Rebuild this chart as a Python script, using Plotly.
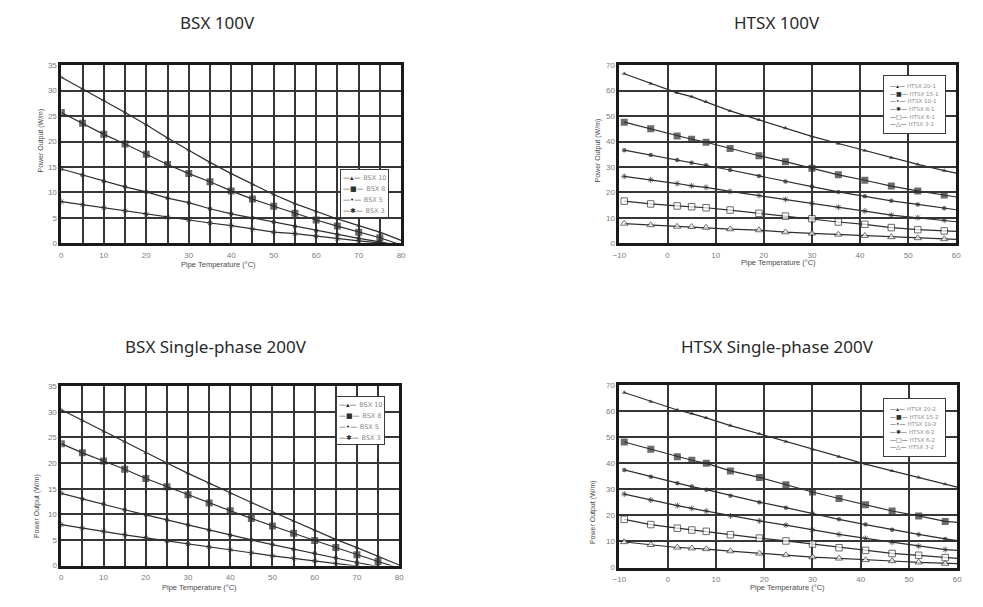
import plotly.graph_objects as go

W, H = 983, 607

# ---------------- data ----------------
chart_titles = ["BSX 100V", "HTSX 100V", "BSX Single-phase 200V", "HTSX Single-phase 200V"]
x_title = "Pipe Temperature (°C)"
y_title = "Power Output (W/m)"

# BSX: pipe temperature (last value = end of line, no marker)
bsx_temp = [0, 5, 10, 15, 20, 25, 30, 35, 40, 45, 50, 55, 60, 65, 70, 75, 80]
bsx_names = ["BSX 10", "BSX 8", "BSX 5", "BSX 3"]

bsx100_10 = [32.6, 30.3, 28.1, 25.7, 23.3, 20.7, 18.3, 15.9, 13.7, 11.6, 9.6, 7.8, 6.3, 4.8, 3.5, 2.2, 0.6]
bsx100_8 = [25.7, 23.6, 21.4, 19.5, 17.5, 15.5, 13.7, 12.1, 10.3, 8.7, 7.3, 5.9, 4.6, 3.4, 2.2, 1.1, -0.3]
bsx100_5 = [14.6, 13.4, 12.2, 11.1, 10.1, 8.9, 8.0, 6.8, 5.8, 5.0, 4.2, 3.3, 2.5, 1.7, 1.0, 0.3, -0.5]
bsx100_3 = [8.2, 7.6, 7.0, 6.4, 5.7, 5.1, 4.6, 4.0, 3.5, 2.8, 2.2, 1.9, 1.4, 0.9, 0.5, 0.1, -0.4]

bsx200_10 = [30.4, 28.3, 26.2, 24.2, 22.0, 20.0, 18.0, 16.1, 14.1, 12.3, 10.5, 8.7, 6.9, 5.1, 3.5, 1.8, 0.1]
bsx200_8 = [23.8, 22.0, 20.4, 18.8, 17.0, 15.4, 13.8, 12.2, 10.7, 9.2, 7.7, 6.3, 4.9, 3.5, 2.1, 0.8, -0.5]
bsx200_5 = [14.1, 13.0, 12.0, 10.9, 9.9, 8.9, 7.9, 6.9, 5.9, 5.0, 4.1, 3.2, 2.4, 1.5, 0.6, -0.2, -1.0]
bsx200_3 = [8.0, 7.3, 6.7, 6.0, 5.4, 4.8, 4.2, 3.6, 3.1, 2.5, 1.9, 1.4, 0.9, 0.4, -0.1, -0.6, -1.1]

# HTSX: pipe temperature (last value = end of line, no marker)
htsx_temp = [-9, -3.5, 2, 5, 8, 13, 19, 24.5, 30, 35.5, 41, 46.5, 52, 57.5, 60]
htsx100_names = ["HTSX 20-1", "HTSX 15-1", "HTSX 10-1", "HTSX 8-1", "HTSX 6-1", "HTSX 3-1"]
htsx200_names = ["HTSX 20-2", "HTSX 15-2", "HTSX 10-2", "HTSX 8-2", "HTSX 6-2", "HTSX 3-2"]

htsx100_20 = [66.6, 62.7, 59.1, 57.6, 55.6, 52.0, 48.5, 45.3, 42.0, 39.2, 36.4, 33.6, 31.0, 28.6, 27.6]
htsx100_15 = [47.6, 45.0, 42.2, 40.9, 39.7, 37.3, 34.4, 32.1, 29.5, 26.9, 24.8, 22.5, 20.6, 19.0, 18.2]
htsx100_10 = [36.6, 34.7, 32.7, 31.7, 30.7, 28.8, 26.5, 24.3, 22.3, 20.2, 18.5, 16.7, 15.3, 13.8, 13.2]
htsx100_8 = [26.3, 25.0, 23.5, 22.6, 22.0, 20.4, 18.8, 17.3, 15.7, 14.2, 12.7, 11.1, 10.1, 9.1, 8.5]
htsx100_6 = [16.6, 15.5, 14.7, 14.4, 14.0, 13.1, 11.8, 10.7, 9.7, 8.4, 7.5, 6.2, 5.4, 4.9, 4.7]
htsx100_3 = [7.8, 7.2, 6.6, 6.5, 6.2, 5.6, 5.2, 4.4, 3.9, 3.5, 3.0, 2.5, 2.1, 1.7, 1.6]

htsx200_20 = [67.2, 63.7, 60.5, 59.1, 57.5, 54.5, 51.3, 48.4, 45.3, 42.5, 39.7, 37.1, 34.6, 32.0, 30.9]
htsx200_15 = [48.2, 45.4, 42.5, 41.2, 40.0, 37.1, 34.6, 31.8, 29.0, 26.5, 24.1, 21.7, 19.8, 17.7, 17.3]
htsx200_10 = [37.5, 34.9, 32.4, 31.1, 29.9, 27.6, 25.1, 23.0, 20.7, 18.5, 16.5, 14.5, 12.7, 11.0, 10.3]
htsx200_8 = [28.2, 25.9, 23.8, 22.7, 21.7, 19.8, 17.9, 16.3, 14.5, 12.7, 11.2, 9.7, 8.2, 6.9, 6.6]
htsx200_6 = [18.5, 16.5, 15.1, 14.4, 13.9, 12.6, 11.3, 10.2, 9.0, 7.6, 6.6, 5.4, 4.7, 3.8, 3.5]
htsx200_3 = [9.8, 8.7, 7.7, 7.4, 7.1, 6.3, 5.4, 4.8, 4.0, 3.5, 2.9, 2.5, 2.0, 1.5, 1.5]

# ---------------- styles ----------------
INK = "#2e2e2e"
GRID = "#363636"
FRAME = "#1a1a1a"
TICK = "#7a7a7a"

bsx_styles = [
    dict(symbol="triangle-up", size=4.5, color=INK, line=dict(width=0)),
    dict(symbol="square", size=7, color=INK, line=dict(width=0)),
    dict(symbol="circle", size=4.5, color=INK, line=dict(width=0)),
    dict(symbol="asterisk-open", size=5, color=INK, line=dict(width=1, color=INK)),
]
htsx_styles = [
    dict(symbol="triangle-up", size=4.5, color=INK, line=dict(width=0)),
    dict(symbol="square", size=7, color=INK, line=dict(width=0)),
    dict(symbol="circle", size=4.5, color=INK, line=dict(width=0)),
    dict(symbol="asterisk-open", size=5, color=INK, line=dict(width=1, color=INK)),
    dict(symbol="square", size=6.5, color="white", line=dict(width=1, color=INK)),
    dict(symbol="triangle-up", size=6.5, color="white", line=dict(width=1, color=INK)),
]
bsx_glyphs = ["—▴—", "—■—", "—•—", "—✱—"]
htsx_glyphs = ["—▴—", "—■—", "—•—", "—✱—", "—□—", "—△—"]

# subplot frames in pixels (left, top, right, bottom)
boxes = [(55, 62, 399, 243), (620, 62, 961, 243), (55, 388, 397, 570), (620, 387, 962, 572)]

fig = go.Figure()


def add_series(ax, x, ys, names, styles):
    for y, name, st in zip(ys, names, styles):
        sizes = [st["size"]] * (len(x) - 1) + [0]
        m = dict(st)
        m["size"] = sizes
        fig.add_trace(go.Scatter(
            x=x, y=y, name=name, mode="lines+markers",
            line=dict(color=INK, width=1.2),
            marker=m, xaxis="x" + ax, yaxis="y" + ax, showlegend=False,
            cliponaxis=True,
        ))


add_series("", bsx_temp, [bsx100_10, bsx100_8, bsx100_5, bsx100_3], bsx_names, bsx_styles)
add_series("2", htsx_temp, [htsx100_20, htsx100_15, htsx100_10, htsx100_8, htsx100_6, htsx100_3],
           htsx100_names, htsx_styles)
add_series("3", bsx_temp, [bsx200_10, bsx200_8, bsx200_5, bsx200_3], bsx_names, bsx_styles)
add_series("4", htsx_temp, [htsx200_20, htsx200_15, htsx200_10, htsx200_8, htsx200_6, htsx200_3],
           htsx200_names, htsx_styles)


def px(x):
    return x / W


def py(y):
    return 1 - y / H


def axis_pair(box, xr, xd, xminor, yr, yd):
    l, t, r, b = box
    common = dict(showline=True, linecolor=FRAME, linewidth=2.8, mirror=True,
                  showgrid=True, gridcolor=GRID, gridwidth=1.6, zeroline=False,
                  ticks="", tickfont=dict(family="Liberation Sans", size=8, color=TICK),
                  fixedrange=True)
    xa = dict(common, domain=[px(l), px(r)], range=xr, tick0=xr[0], dtick=xd,
              ticklabelstandoff=2)
    if xminor:
        xa["minor"] = dict(dtick=xminor, tick0=xr[0], showgrid=True, gridcolor=GRID, gridwidth=1.6)
    ya = dict(common, domain=[py(b), py(t)], range=yr, tick0=0, dtick=yd)
    return xa, ya


layout_axes = {}
specs = [([0, 80], 10, 5, [0, 35], 5), ([-10, 60], 10, None, [0, 70], 10),
         ([0, 80], 10, 5, [0, 35], 5), ([-10, 60], 10, None, [0, 70], 10)]
for i, (box, sp) in enumerate(zip(boxes, specs)):
    xa, ya = axis_pair(box, *sp)
    suf = "" if i == 0 else str(i + 1)
    xa["anchor"] = "y" + suf
    ya["anchor"] = "x" + suf
    layout_axes["xaxis" + suf] = xa
    layout_axes["yaxis" + suf] = ya

ann = []
# chart titles
title_pos = [(213, 19), (780, 19), (212, 348), (780, 348)]
for t, (x, y) in zip(chart_titles, title_pos):
    ann.append(dict(text=t, x=px(x), y=py(y), xref="paper", yref="paper", showarrow=False,
                    xanchor="center", yanchor="middle",
                    font=dict(family="Noto Sans", size=17, color="#2a2a2a")))
# axis titles
xt_pos = [(214, 264), (781, 262), (195, 592), (790, 592)]
yt_pos = [(34, 139), (598, 149), (31, 510), (594, 516)]
for (x, y) in xt_pos:
    ann.append(dict(text=x_title, x=px(x), y=py(y), xref="paper", yref="paper", showarrow=False,
                    xanchor="center", yanchor="middle",
                    font=dict(family="Liberation Sans", size=7.5, color="#4a4a4a")))
for (x, y) in yt_pos:
    ann.append(dict(text=y_title, x=px(x), y=py(y), xref="paper", yref="paper", showarrow=False,
                    xanchor="center", yanchor="middle", textangle=-90,
                    font=dict(family="Liberation Sans", size=7, color="#4a4a4a")))


# legends (boxed text)
def legend_text(names, glyphs, gsize, tsize):
    rows = []
    for n, g in zip(names, glyphs):
        rows.append(f"<span style='font-size:{gsize}px;color:{INK}'>{g}</span>"
                    f" <span style='font-size:{tsize}px;color:#8a8a8a'>{n}</span>")
    return "<br>".join(rows)


legends = [
    (337, 167, bsx_names, bsx_glyphs, 8.5, 7, 6.5, 2),
    (887, 72, htsx100_names, htsx_glyphs, 5.9, 6, 5.5, 6),
    (333, 398, bsx_names, bsx_glyphs, 8.5, 7, 6.5, 2),
    (887, 400, htsx200_names, htsx_glyphs, 5.9, 6, 5.5, 6),
]
for (x, y, names, glyphs, base, gs, ts, pad) in legends:
    ann.append(dict(text=legend_text(names, glyphs, gs, ts), x=px(x), y=py(y),
                    xref="paper", yref="paper", showarrow=False, xanchor="left", yanchor="top",
                    align="left", bgcolor="white", bordercolor="#3a3a3a", borderwidth=1,
                    borderpad=pad, font=dict(family="DejaVu Sans", size=base, color=INK)))

fig.update_layout(
    width=W, height=H, margin=dict(l=0, r=0, t=0, b=0),
    paper_bgcolor="white", plot_bgcolor="white",
    showlegend=False, annotations=ann, **layout_axes,
)

fig.write_html("out.html")
